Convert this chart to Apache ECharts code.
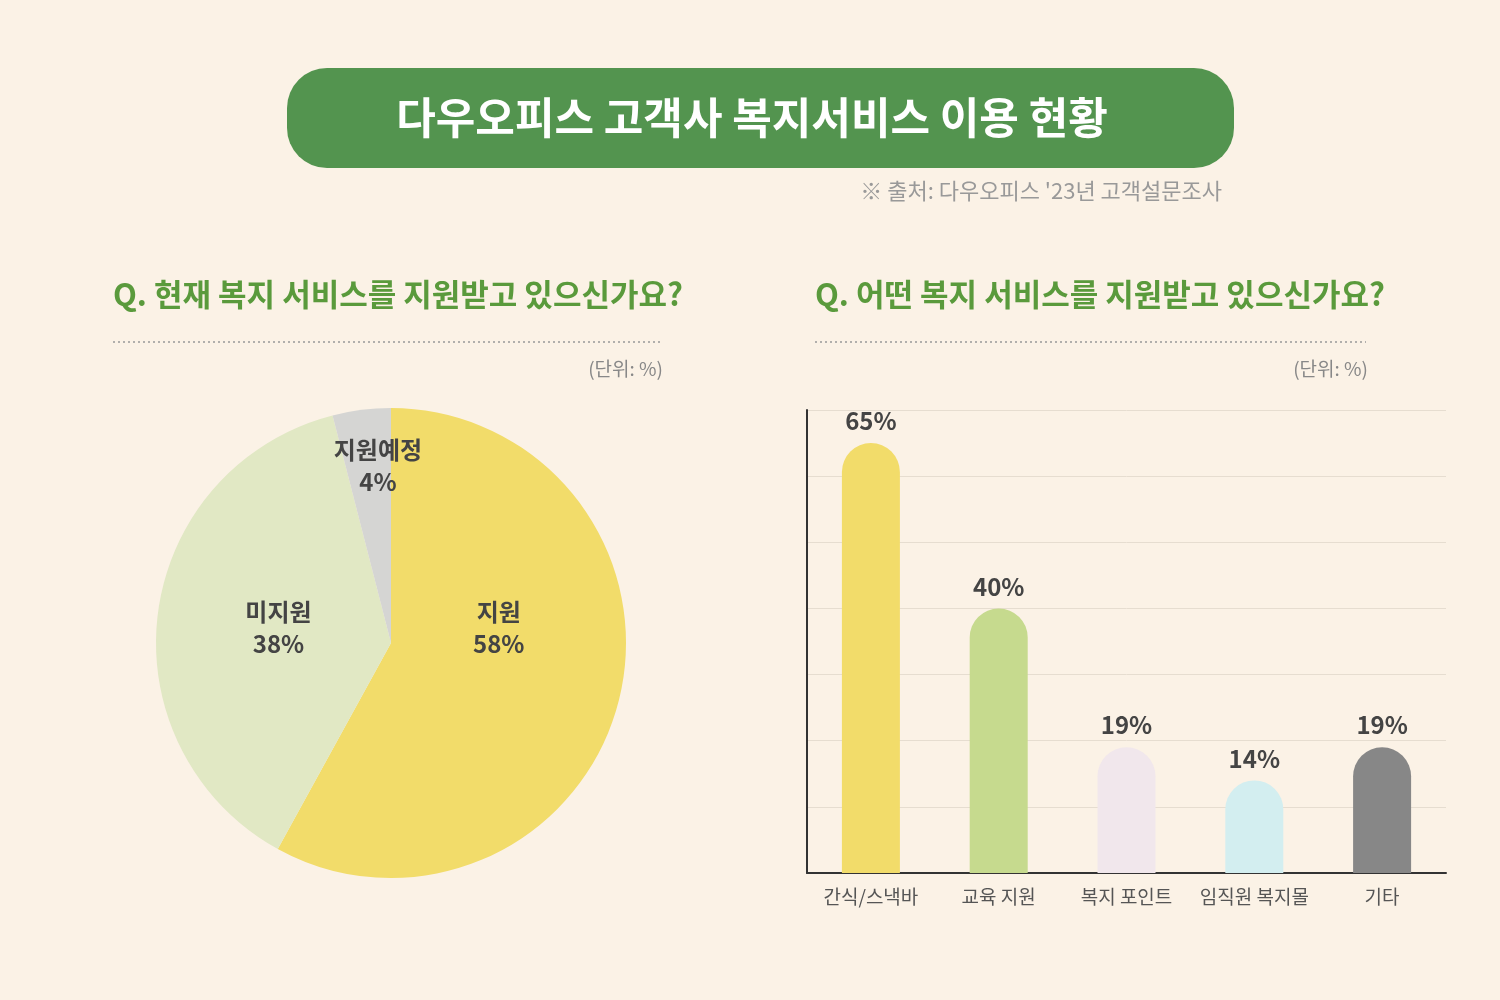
<!DOCTYPE html>
<html><head><meta charset="utf-8">
<script src="https://cdn.jsdelivr.net/npm/echarts@6/dist/echarts.min.js"></script>
<style>html,body{margin:0;padding:0;background:#fbf2e6}#c{width:1500px;height:1000px}</style>
</head><body><div id="c"></div>
<script>
const pieNames = ['지원','미지원','지원예정'];
const pieValues = [58,38,4];
const pieColors = ['#f2dc6a','#e1e8c4','#d5d5d3'];
const barCats = ['간식/스낵바','교육 지원','복지 포인트','임직원 복지몰','기타'];
const barValues = [65,40,19,14,19];
const barColors = ['#f2dc6a','#c6da8e','#f1e7ec','#d3eef0','#878787'];
const labelOffsets = [[-9,-45],[7,0],[2,-58]];
const F = '"Noto Sans CJK KR", sans-serif';
const chart = echarts.init(document.getElementById('c'));
chart.setOption({
  backgroundColor:'#fbf2e6',
  graphic:[
    {type:'rect',shape:{x:287,y:68,width:947,height:100,r:40},style:{fill:'#53944f'}},
    {type:'text',x:752,y:118,style:{text:'다우오피스 고객사 복지서비스 이용 현황',fill:'#fff',font:'bold 43px '+F,textAlign:'center',textVerticalAlign:'middle'}},
    {type:'text',x:1222,y:191,style:{text:'※ 출처: 다우오피스 \'23년 고객설문조사',fill:'#999',font:'22px '+F,textAlign:'right',textVerticalAlign:'middle'}},
    {type:'text',x:113,y:294,style:{text:'Q. 현재 복지 서비스를 지원받고 있으신가요?',fill:'#5a9a3c',font:'bold 31px '+F,textVerticalAlign:'middle'}},
    {type:'text',x:815,y:294,style:{text:'Q. 어떤 복지 서비스를 지원받고 있으신가요?',fill:'#5a9a3c',font:'bold 31px '+F,textVerticalAlign:'middle'}},
    {type:'line',shape:{x1:113,y1:342,x2:663,y2:342},style:{stroke:'#999',lineDash:[2,3],lineWidth:1.5}},
    {type:'line',shape:{x1:815,y1:342,x2:1366,y2:342},style:{stroke:'#999',lineDash:[2,3],lineWidth:1.5}},
    {type:'text',x:663,y:369,style:{text:'(단위: %)',fill:'#888',font:'19px '+F,textAlign:'right',textVerticalAlign:'middle'}},
    {type:'text',x:1368,y:369,style:{text:'(단위: %)',fill:'#888',font:'19px '+F,textAlign:'right',textVerticalAlign:'middle'}}
  ],
  grid:{left:807,top:410,width:639,height:463},
  xAxis:{type:'category',data:barCats,axisLine:{lineStyle:{color:'#333',width:2}},axisTick:{show:false},
    axisLabel:{color:'#555',fontSize:19,fontFamily:F,margin:14,interval:0}},
  yAxis:{type:'value',min:0,max:70,interval:10,axisLabel:{show:false},axisLine:{show:true,lineStyle:{color:'#333',width:2}},
    splitLine:{lineStyle:{color:'#e6ddd0'}}},
  series:[
    {type:'pie',center:[391,643],radius:235,startAngle:90,clockwise:true,
     data:pieNames.map((n,i)=>({name:n,value:pieValues[i],itemStyle:{color:pieColors[i]},label:{offset:labelOffsets[i]}})),
     label:{position:'inner',formatter:'{b}\n{c}%',color:'#444',fontSize:24,fontWeight:'bold',fontFamily:F,lineHeight:32},
     labelLine:{show:false},emphasis:{disabled:true}},
    {type:'bar',barWidth:58,
     data:barValues.map((v,i)=>({value:v,itemStyle:{color:barColors[i],borderRadius:[29,29,0,0]}})),
     label:{show:true,position:'top',formatter:'{c}%',color:'#444',fontSize:24,fontWeight:'bold',fontFamily:F,distance:10}}
  ]
});
</script></body></html>
